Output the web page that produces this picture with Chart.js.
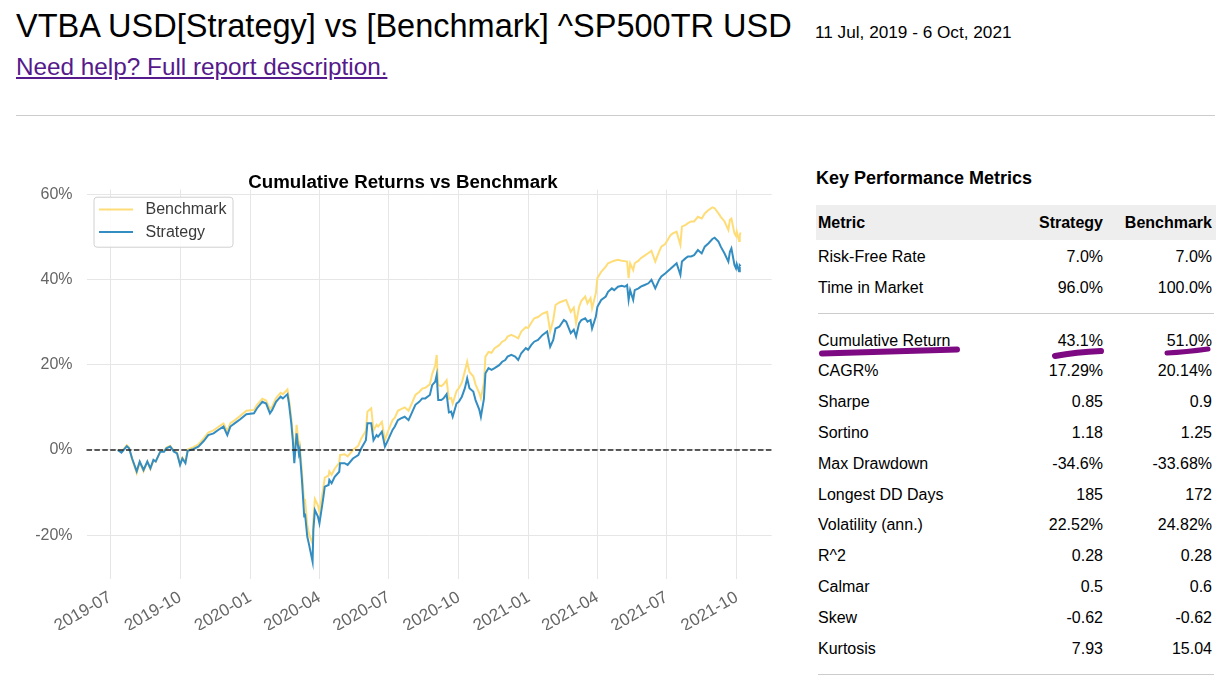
<!DOCTYPE html>
<html>
<head>
<meta charset="utf-8">
<title>VTBA USD vs ^SP500TR USD</title>
<script src="https://cdn.jsdelivr.net/npm/chart.js@4.4.0/dist/chart.umd.min.js"></script>
<style>
    body { margin: 0; background: #fff; font-family: "Liberation Sans", Arial, sans-serif; color: #000; }
    #pagina { position: relative; width: 1231px; height: 680px; overflow: hidden; }
    #titulo { position: absolute; left: 16px; top: 10px; font-size: 32.5px; line-height: 32px; white-space: nowrap; }
    #periodo { position: absolute; left: 815px; top: 22px; font-size: 17.2px; line-height: 20px; white-space: nowrap; }
    #ajuda { position: absolute; left: 16px; top: 54px; font-size: 24.3px; line-height: 26px; color: #551a8b; white-space: nowrap; }
    #regua { position: absolute; left: 16px; top: 115px; width: 1199px; border-top: 1px solid #cccccc; }
    #grafico { position: absolute; left: 0; top: 150px; }
    #metricas-titulo { position: absolute; left: 816px; top: 167px; font-size: 18px; line-height: 22px; font-weight: bold; white-space: nowrap; }
    .linha { position: absolute; left: 816px; width: 400px; font-size: 16px; white-space: nowrap; }
    .linha span { position: absolute; }
    .linha .nome { left: 2px; }
    .linha .estrategia { right: 113px; }
    .linha .referencia { right: 4px; }
    .cabecalho { background: #eeeeee; font-weight: bold; }
    .separador { position: absolute; left: 818px; width: 396px; border-top: 1px solid #cccccc; }
    #marcas { position: absolute; left: 0; top: 0; }
</style>
</head>
<body>
<div id="pagina">
    <div id="titulo">VTBA USD[Strategy] vs [Benchmark] ^SP500TR USD</div>
    <div id="periodo">11 Jul, 2019 - 6 Oct, 2021</div>
    <a id="ajuda" href="#">Need help? Full report description.</a>
    <div id="regua"></div>
    <canvas id="grafico" width="800" height="480"></canvas>
    <div id="metricas-titulo">Key Performance Metrics</div>
    <div id="metricas"></div>
    <svg id="marcas" width="1231" height="680">
        <g fill="none" stroke="#7d0a82" stroke-linecap="round">
            <path d="M822,353.5 Q880,352 957,349.5" stroke-width="6"/>
            <path d="M1055,356 Q1076,352 1101,351" stroke-width="6"/>
            <path d="M1167,353 Q1186,352 1208,349" stroke-width="5"/>
        </g>
    </svg>
</div>

<script>
// Datas dos pontos (aproximadas a partir da imagem)
const datas = [
    '2019-07-11','2019-07-16','2019-07-23','2019-07-26','2019-07-30','2019-08-05','2019-08-09','2019-08-14',
    '2019-08-19','2019-08-23','2019-08-27','2019-08-30','2019-09-05','2019-09-10','2019-09-13','2019-09-18',
    '2019-09-23','2019-09-27','2019-10-01','2019-10-04','2019-10-08','2019-10-11','2019-10-18','2019-10-25',
    '2019-11-01','2019-11-07','2019-11-14','2019-11-20','2019-11-27','2019-12-02','2019-12-06','2019-12-12',
    '2019-12-19','2019-12-27','2020-01-06','2020-01-10','2020-01-17','2020-01-22','2020-01-27','2020-01-30',
    '2020-02-04','2020-02-10','2020-02-13','2020-02-19','2020-02-21','2020-02-24','2020-02-26','2020-02-28',
    '2020-03-02','2020-03-05','2020-03-06','2020-03-09','2020-03-12','2020-03-13','2020-03-16','2020-03-18',
    '2020-03-23','2020-03-24','2020-03-26','2020-03-30','2020-04-01','2020-04-06','2020-04-08','2020-04-13',
    '2020-04-14','2020-04-17','2020-04-21','2020-04-27','2020-04-28','2020-05-04','2020-05-08','2020-05-15',
    '2020-05-22','2020-05-26','2020-06-01','2020-06-03','2020-06-08','2020-06-11','2020-06-15','2020-06-17',
    '2020-06-22','2020-06-26','2020-06-30','2020-07-06','2020-07-09','2020-07-13','2020-07-17','2020-07-22',
    '2020-07-27','2020-07-31','2020-08-05','2020-08-10','2020-08-14','2020-08-18','2020-08-24','2020-08-27',
    '2020-08-31','2020-09-02','2020-09-03','2020-09-04','2020-09-08','2020-09-11','2020-09-15','2020-09-18',
    '2020-09-21','2020-09-23','2020-09-28','2020-10-01','2020-10-05','2020-10-09','2020-10-12','2020-10-15',
    '2020-10-20','2020-10-23','2020-10-28','2020-10-30','2020-11-03','2020-11-05','2020-11-09','2020-11-13',
    '2020-11-17','2020-11-23','2020-11-27','2020-12-01','2020-12-04','2020-12-09','2020-12-14','2020-12-18',
    '2020-12-22','2020-12-28','2020-12-31','2021-01-04','2021-01-08','2021-01-13','2021-01-19','2021-01-22',
    '2021-01-25','2021-01-29','2021-02-02','2021-02-05','2021-02-10','2021-02-16','2021-02-19','2021-02-25',
    '2021-03-01','2021-03-04','2021-03-08','2021-03-11','2021-03-16','2021-03-19','2021-03-23','2021-03-25',
    '2021-03-30','2021-04-01','2021-04-06','2021-04-12','2021-04-15','2021-04-20','2021-04-23','2021-04-28',
    '2021-05-03','2021-05-07','2021-05-10','2021-05-12','2021-05-14','2021-05-18','2021-05-20','2021-05-25',
    '2021-05-28','2021-06-02','2021-06-07','2021-06-11','2021-06-16','2021-06-21','2021-06-24','2021-06-29',
    '2021-07-06','2021-07-09','2021-07-14','2021-07-19','2021-07-21','2021-07-26','2021-07-29','2021-08-02',
    '2021-08-06','2021-08-11','2021-08-16','2021-08-20','2021-08-25','2021-08-30','2021-09-02','2021-09-07',
    '2021-09-10','2021-09-15','2021-09-20','2021-09-22','2021-09-24','2021-09-28','2021-09-30','2021-10-01',
    '2021-10-04','2021-10-05','2021-10-06'
];

// Retorno acumulado (%) da estratégia
const estrategia = [
    0.0, -0.6, 0.9, 0.4, -2.0, -5.0, -2.7, -4.7,
    -2.7, -4.3, -2.3, -2.7, -0.4, -0.4, 0.4, 0.8,
    -0.4, -0.8, -3.5, -2.0, -3.1, -0.2, 0.2, 0.8,
    2.1, 3.5, 3.9, 4.7, 5.5, 3.5, 5.5, 6.3,
    7.2, 8.4, 8.6, 9.8, 11.3, 10.9, 8.6, 9.4,
    11.3, 12.5, 12.1, 13.1, 10.9, 6.3, 2.3, -3.1,
    3.9, -0.8, 0.0, -7.0, -15.6, -14.9, -20.3, -21.9,
    -26.2, -18.8, -14.1, -15.6, -17.2, -11.3, -8.6, -8.2,
    -7.0, -7.8, -6.3, -5.1, -3.1, -3.1, -3.5, -2.0,
    -1.2, 0.4, 2.3, 6.3, 6.3, 2.3, 3.5, 3.1,
    4.3, 0.8, 2.3, 4.7, 5.5, 7.0, 7.4, 7.8,
    7.0, 8.6, 10.6, 11.3, 12.1, 12.1, 12.9, 15.2,
    16.0, 17.6, 14.5, 11.7, 11.7, 12.1, 13.1, 8.8,
    9.0, 7.8, 10.9, 11.3, 12.5, 14.5, 16.8, 14.5,
    13.7, 11.7, 9.4, 7.8, 12.0, 18.0, 19.2, 18.8,
    19.2, 19.9, 20.7, 21.1, 21.9, 22.3, 21.9, 21.1,
    22.7, 23.9, 23.5, 24.6, 25.4, 25.8, 27.0, 27.4,
    27.8, 24.2, 25.8, 28.5, 28.9, 30.5, 30.1, 27.4,
    28.2, 26.6, 29.7, 30.5, 30.9, 30.1, 30.5, 28.5,
    31.3, 33.6, 35.2, 36.0, 37.1, 37.9, 37.5, 38.3,
    38.5, 38.3, 38.7, 35.2, 37.5, 35.2, 37.5, 37.9,
    38.3, 38.7, 39.1, 39.9, 37.9, 39.9, 40.7, 41.4,
    42.5, 43.0, 43.8, 41.1, 44.2, 45.0, 45.4, 45.4,
    45.7, 46.9, 46.1, 47.7, 48.5, 49.5, 49.8, 48.9,
    47.7, 46.1, 44.2, 46.5, 47.3, 43.4, 42.6, 43.6,
    41.9, 43.3, 43.1
];

// Retorno acumulado (%) do benchmark
const benchmark = [
    0.0, -0.4, 1.1, 0.6, -2.2, -5.4, -2.9, -5.0,
    -2.8, -4.5, -2.4, -2.7, -0.3, -0.2, 0.6, 1.0,
    -0.2, -0.6, -3.3, -1.8, -2.8, 0.1, 0.6, 1.3,
    2.7, 4.1, 4.6, 5.4, 6.2, 4.4, 6.3, 7.0,
    8.0, 9.2, 9.4, 10.6, 12.0, 11.6, 9.6, 10.2,
    12.2, 13.4, 13.1, 14.2, 12.0, 7.6, 3.6, -1.6,
    5.9, 1.2, 1.5, -5.0, -12.5, -11.5, -17.5, -19.5,
    -22.0, -16.5, -11.5, -13.0, -14.5, -9.0, -6.5, -6.0,
    -5.0, -5.8, -4.4, -3.0, -1.2, -1.0, -1.5, 0.0,
    1.0, 2.7, 4.5, 9.0, 9.8, 4.6, 5.9, 5.5,
    6.6, 2.3, 4.4, 7.0, 7.6, 9.2, 9.6, 10.0,
    9.2, 10.8, 12.9, 13.6, 14.4, 14.6, 15.4, 17.8,
    19.8, 22.3, 18.0, 15.2, 15.0, 15.4, 16.4, 12.0,
    12.2, 10.9, 13.8, 14.5, 15.8, 18.5, 20.7, 18.3,
    17.3, 15.4, 13.3, 12.1, 15.8, 21.9, 23.0, 22.8,
    23.9, 24.6, 25.4, 25.8, 26.6, 27.0, 26.6, 26.2,
    27.8, 28.8, 28.6, 29.8, 30.9, 31.2, 32.0, 32.2,
    32.4, 27.8, 30.5, 34.0, 34.6, 35.0, 35.2, 32.4,
    33.4, 29.7, 33.6, 35.0, 36.0, 34.4, 35.6, 33.2,
    36.8, 40.3, 41.8, 43.0, 43.8, 44.2, 44.4, 44.6,
    44.4, 44.3, 44.2, 40.3, 43.8, 42.2, 43.8, 44.4,
    45.0, 45.6, 46.2, 46.7, 44.2, 46.5, 47.7, 48.3,
    50.4, 50.8, 51.2, 48.1, 52.4, 52.8, 53.2, 53.6,
    53.6, 54.7, 54.3, 55.5, 56.3, 56.9, 56.7, 55.5,
    54.7, 53.6, 51.6, 54.0, 54.3, 50.8, 50.2, 51.2,
    49.0, 50.4, 51.0
];

// Rótulos do eixo x e do eixo y
const rotulosX = ['2019-07','2019-10','2020-01','2020-04','2020-07','2020-10','2021-01','2021-04','2021-07','2021-10'];
const ticksY = [-20, 0, 20, 40, 60];

// Tabela de métricas
const nomesMetricas = ['Risk-Free Rate','Time in Market','Cumulative Return','CAGR%','Sharpe','Sortino','Max Drawdown',
    'Longest DD Days','Volatility (ann.)','R^2','Calmar','Skew','Kurtosis'];
const valoresEstrategia = ['7.0%','96.0%','43.1%','17.29%','0.85','1.18','-34.6%','185','22.52%','0.28','0.5','-0.62','7.93'];
const valoresBenchmark = ['7.0%','100.0%','51.0%','20.14%','0.9','1.25','-33.68%','172','24.82%','0.28','0.6','-0.62','15.04'];

// Converte 'AAAA-MM-DD' em dias desde 2019-07-01
function diasDesde(texto) {
    const partes = texto.split('-').map(Number);
    return (Date.UTC(partes[0], partes[1] - 1, partes[2] || 1) - Date.UTC(2019, 6, 1)) / 86400000;
}

const pontosEstrategia = datas.map((d, i) => ({ x: diasDesde(d), y: estrategia[i] }));
const pontosBenchmark = datas.map((d, i) => ({ x: diasDesde(d), y: benchmark[i] }));

// Margens de 5% como no matplotlib
const xIni = diasDesde(datas[0]), xFim = diasDesde(datas[datas.length - 1]);
const margemX = (xFim - xIni) * 0.05;
const todos = estrategia.concat(benchmark);
const yMin = Math.min(...todos), yMax = Math.max(...todos);
const margemY = (yMax - yMin) * 0.05;

const fonte = '"Liberation Sans", Arial, sans-serif';
Chart.defaults.font.family = fonte;

// Título do gráfico
const tituloGrafico = {
    id: 'tituloGrafico',
    afterDraw(chart) {
        const ctx = chart.ctx;
        ctx.save();
        ctx.font = 'bold 18.7px ' + fonte;
        ctx.fillStyle = '#000';
        ctx.textAlign = 'center';
        ctx.textBaseline = 'alphabetic';
        ctx.fillText('Cumulative Returns vs Benchmark', 403, 38);
        ctx.restore();
    }
};

// Linha tracejada no zero
const linhaZero = {
    id: 'linhaZero',
    afterDatasetsDraw(chart) {
        const { ctx, chartArea, scales } = chart;
        const y = scales.y.getPixelForValue(0);
        ctx.save();
        ctx.strokeStyle = '#262626';
        ctx.lineWidth = 1.7;
        ctx.setLineDash([5.5, 2.4]);
        ctx.beginPath();
        ctx.moveTo(chartArea.left, y);
        ctx.lineTo(chartArea.right, y);
        ctx.stroke();
        ctx.restore();
    }
};

// Legenda com moldura arredondada
const legendaCaixa = {
    id: 'legendaCaixa',
    afterDraw(chart) {
        const { ctx, chartArea } = chart;
        const x = chartArea.left + 7.5, y = chartArea.top + 7.5;
        ctx.save();
        ctx.fillStyle = 'rgba(255,255,255,0.85)';
        ctx.strokeStyle = '#d0d0d0';
        ctx.lineWidth = 1;
        ctx.beginPath();
        ctx.roundRect(x, y, 139, 50, 3);
        ctx.fill();
        ctx.stroke();
        ctx.font = '16px ' + fonte;
        ctx.textBaseline = 'middle';
        chart.data.datasets.forEach((ds, i) => {
            const yy = y + 12.3 + i * 22.4;
            ctx.strokeStyle = ds.borderColor;
            ctx.lineWidth = 2;
            ctx.beginPath();
            ctx.moveTo(x + 5, yy);
            ctx.lineTo(x + 39, yy);
            ctx.stroke();
            ctx.fillStyle = '#3a3a3a';
            ctx.fillText(ds.label, x + 51.5, yy + 0.5);
        });
        ctx.restore();
    }
};

new Chart(document.getElementById('grafico'), {
    type: 'line',
    data: {
        datasets: [{
            label: 'Benchmark',
            data: pontosBenchmark,
            borderColor: '#fedd78',
            borderWidth: 2,
            pointRadius: 0,
            tension: 0,
            order: 1
        }, {
            label: 'Strategy',
            data: pontosEstrategia,
            borderColor: '#348dc1',
            borderWidth: 2,
            pointRadius: 0,
            tension: 0,
            order: 0
        }]
    },
    options: {
        responsive: false,
        animation: false,
        devicePixelRatio: 1,
        layout: { padding: { top: 39.7, right: 28.3, left: 0, bottom: 0 } },
        plugins: { legend: { display: false }, tooltip: { enabled: false } },
        scales: {
            x: {
                type: 'linear',
                min: xIni - margemX,
                max: xFim + margemX,
                afterBuildTicks: scale => { scale.ticks = rotulosX.map(r => ({ value: diasDesde(r) })); },
                afterFit: scale => { scale.height = 50.6; },
                grid: { color: '#e6e6e6', drawTicks: false },
                border: { display: false },
                ticks: {
                    autoSkip: false,
                    minRotation: 30,
                    maxRotation: 30,
                    padding: 8,
                    color: '#666',
                    font: { size: 17 },
                    callback: (valor, i) => rotulosX[i]
                }
            },
            y: {
                min: yMin - margemY,
                max: yMax + margemY,
                afterBuildTicks: scale => { scale.ticks = ticksY.map(v => ({ value: v })); },
                afterFit: scale => { scale.width = 86.5; },
                grid: { color: '#e6e6e6', drawTicks: false },
                border: { display: false },
                ticks: {
                    padding: 14,
                    color: '#666',
                    font: { size: 16 },
                    callback: valor => valor + '%'
                }
            }
        }
    },
    plugins: [linhaZero, legendaCaixa, tituloGrafico]
});

// Monta a tabela de métricas
function montarTabela() {
    const caixa = document.getElementById('metricas');
    let html = `<div class="linha cabecalho" style="top:205px;height:35px;line-height:36px">
        <span class="nome">Metric</span><span class="estrategia">Strategy</span><span class="referencia">Benchmark</span></div>`;
    nomesMetricas.forEach((nome, i) => {
        const topo = i < 2 ? 240.5 + i * 31 : 324.6 + (i - 2) * 30.8;
        html += `<div class="linha" style="top:${topo}px;height:31px;line-height:31px">
            <span class="nome">${nome}</span><span class="estrategia">${valoresEstrategia[i]}</span><span class="referencia">${valoresBenchmark[i]}</span></div>`;
    });
    html += `<div class="separador" style="top:313px"></div><div class="separador" style="top:674px"></div>`;
    caixa.innerHTML = html;
}

montarTabela();
</script>
</body>
</html>
